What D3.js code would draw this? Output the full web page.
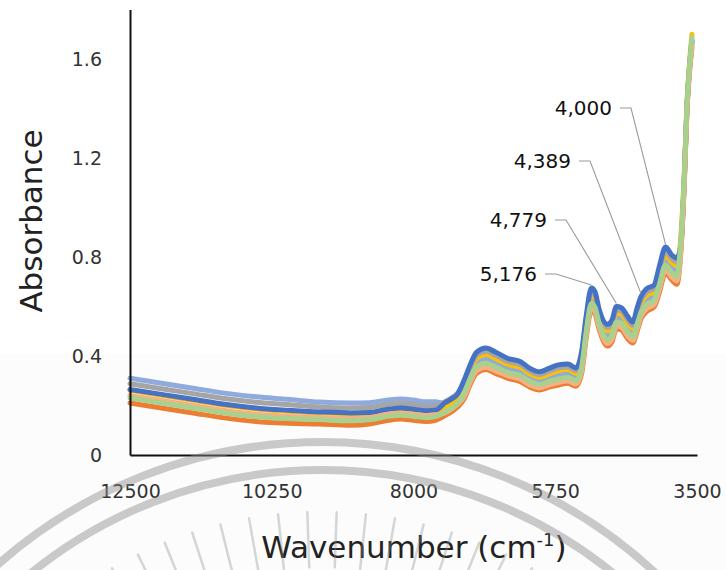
<!DOCTYPE html>
<html>
<head>
<meta charset="utf-8">
<script src="https://cdn.jsdelivr.net/npm/d3@7"></script>
<style>
  html, body { margin: 0; padding: 0; background: #ffffff; }
  svg { display: block; font-family: "DejaVu Sans", Verdana, sans-serif; }
</style>
</head>
<body>
<svg id="chart" width="726" height="570"></svg>
<script>
// NIR absorbance spectra (wavenumber in cm-1)
const wavenumber = [12500,12000,11500,11000,10500,10000,9500,9000,8700,8400,8200,8000,7800,7650,
  7500,7400,7300,
  7200,7100,7000,6850,6700,6500,6300,6150,6000,5850,5700,5550,5420,5330,5260,5176,5120,5050,4920,4850,4779,4700,4600,4520,4450,4389,4300,4180,4100,4000,3900,3820,
  3760,3700,3660,3620,3580];

const sampleA = [.265,.245,.225,.205,.19,.181,.174,.17,.172,.185,.19,.185,.179,.181,
  .211,.226,.246,
  .30,.365,.415,.432,.416,.39,.377,.35,.336,.35,.364,.368,.352,.42,.56,.675,.66,.586,.528,.545,.60,.595,.56,.537,.595,.64,.672,.687,.76,.84,.808,.796,
  .842,1.13,1.404,1.564,1.676];
const sampleB = [.31,.29,.27,.25,.235,.225,.214,.21,.211,.222,.226,.222,.215,.215,
  .208,.223,.243,
  .263,.325,.373,.389,.373,.35,.337,.312,.30,.312,.324,.329,.315,.375,.515,.63,.615,.546,.484,.501,.555,.55,.515,.495,.548,.595,.626,.643,.708,.788,.758,.743,
  .835,1.125,1.40,1.56,1.67];
const sampleC = [.288,.268,.248,.228,.213,.204,.194,.19,.192,.204,.208,.204,.197,.199,
  .215,.23,.25,
  .289,.353,.402,.419,.403,.378,.365,.339,.325,.339,.352,.356,.341,.407,.547,.662,.647,.574,.515,.532,.587,.582,.547,.524,.581,.627,.658,.674,.744,.824,.793,.78,
  .828,1.12,1.396,1.556,1.664];
const sampleD = [.21,.19,.17,.15,.135,.128,.125,.12,.125,.14,.145,.14,.135,.14,
  .159,.174,.194,
  .225,.285,.33,.345,.33,.31,.296,.274,.263,.274,.283,.29,.278,.33,.47,.585,.57,.505,.44,.457,.51,.505,.47,.453,.50,.55,.58,.598,.655,.735,.707,.69,
  .807,1.105,1.384,1.544,1.646];
const sampleE = [.261,.241,.221,.201,.186,.177,.17,.166,.168,.181,.186,.181,.175,.177,
  .196,.211,.231,
  .278,.341,.39,.406,.39,.366,.353,.327,.314,.327,.34,.345,.33,.393,.533,.648,.633,.562,.502,.519,.573,.568,.533,.512,.567,.613,.644,.66,.729,.809,.778,.764,
  .87,1.15,1.42,1.58,1.70];
const sampleF = [.23,.21,.19,.17,.155,.147,.143,.138,.142,.156,.161,.156,.151,.155,
  .174,.189,.209,
  .248,.309,.356,.371,.356,.334,.32,.297,.285,.297,.307,.313,.30,.357,.497,.612,.597,.529,.466,.483,.537,.532,.497,.478,.529,.577,.608,.625,.687,.767,.737,.722,
  .856,1.14,1.412,1.572,1.688];
const sampleG = [.24,.22,.20,.18,.165,.157,.152,.147,.151,.165,.169,.165,.159,.163,
  .17,.185,.205,
  .234,.295,.34,.355,.34,.32,.306,.283,.272,.283,.293,.299,.287,.341,.481,.596,.581,.515,.451,.468,.521,.516,.481,.463,.511,.561,.591,.609,.668,.748,.719,.703,
  .814,1.11,1.388,1.548,1.652];

const xTicks = [12500, 10250, 8000, 5750, 3500];
const yTicks = [0, 0.4, 0.8, 1.2, 1.6];
const peakLabels = [4000, 4389, 4779, 5176];

// drawing order (last on top) and line colours
const spectra = [sampleB, sampleE, sampleC, sampleA, sampleD, sampleG, sampleF];
const palette = ["#8FAADC", "#FFC000", "#A5A5A5", "#4472C4", "#ED7D31", "#F4B183", "#A9D18E"];

const svg = d3.select("#chart");

const defs = svg.append("defs");
defs.append("filter").attr("id", "soft")
  .append("feGaussianBlur").attr("stdDeviation", 0.6);

// very faint grey band across the lower part of the page
svg.append("rect").attr("x", 0).attr("y", 354).attr("width", 726).attr("height", 216)
  .attr("fill", "#fcfcfc");

const x = d3.scaleLinear().domain([12500, 3500]).range([130, 697]);
const y = d3.scaleLinear().domain([0, 1.8]).range([455, 9.5]);

const line = d3.line()
  .x((d, i) => x(wavenumber[i]))
  .y(d => y(d))
  .curve(d3.curveMonotoneX);

const plot = svg.append("g").attr("filter", "url(#soft)");
spectra.forEach((s, k) => {
  plot.append("path")
    .datum(s)
    .attr("d", line)
    .attr("fill", "none")
    .attr("stroke", palette[k])
    .attr("stroke-width", 5)
    .attr("stroke-linejoin", "round")
    .attr("stroke-linecap", "round");
});

// axes
const xAxis = d3.axisBottom(x).tickValues(xTicks).tickSize(0).tickPadding(30)
  .tickFormat(d3.format("d"));
const gx = svg.append("g").attr("transform", "translate(0,455)").call(xAxis);
gx.select(".domain").attr("stroke", "#111").attr("stroke-width", 2);
gx.selectAll("text").attr("font-size", 19).attr("fill", "#333").attr("font-family", "DejaVu Sans");

const yAxis = d3.axisLeft(y).tickValues(yTicks).tickSize(0).tickPadding(28)
  .tickFormat(d => d === 0 ? "0" : d3.format(".1f")(d));
const gy = svg.append("g").attr("transform", "translate(130,0)").call(yAxis);
gy.select(".domain").attr("stroke", "#111").attr("stroke-width", 2);
gy.selectAll("text").attr("font-size", 19).attr("fill", "#333").attr("font-family", "DejaVu Sans");

// axis titles
svg.append("text")
  .attr("transform", "translate(42,221) rotate(-90)")
  .attr("text-anchor", "middle")
  .attr("font-size", 31).attr("fill", "#222")
  .text("Absorbance");

const xt = svg.append("text")
  .attr("x", 414).attr("y", 558)
  .attr("text-anchor", "middle")
  .attr("font-size", 31).attr("fill", "#222");
xt.append("tspan").text("Wavenumber (cm");
xt.append("tspan").attr("font-size", 18).attr("dy", -12).text("-1");
xt.append("tspan").attr("dy", 12).text(")");

// peak call-outs with leader lines to the top spectrum
const labelPos = [
  { tx: 612, ty: 108 },
  { tx: 571, ty: 161 },
  { tx: 547, ty: 220 },
  { tx: 537, ty: 274 }
];
const fmt = d3.format(",");
peakLabels.forEach((wn, i) => {
  const p = labelPos[i];
  const idx = wavenumber.indexOf(wn);
  const px = x(wn), py = y(sampleA[idx]) - 3;
  svg.append("polyline")
    .attr("points", [[p.tx + 8, p.ty], [p.tx + 19, p.ty], [px, py]].map(d => d.join(",")).join(" "))
    .attr("fill", "none").attr("stroke", "#9a9a9a").attr("stroke-width", 1.1);
  svg.append("text")
    .attr("x", p.tx).attr("y", p.ty)
    .attr("dy", "0.35em")
    .attr("text-anchor", "end")
    .attr("font-size", 20).attr("fill", "#111")
    .text(fmt(wn));
});

// seal watermark over the lower part of the page
const wm = svg.append("g");
const cx = 322, cy = 932;
[490, 462].forEach(r => {
  wm.append("circle").attr("cx", cx).attr("cy", cy).attr("r", r)
    .attr("fill", "none").attr("stroke", "#8c8c8c").attr("stroke-opacity", 0.45)
    .attr("stroke-width", 8);
});
d3.range(-30, 31, 4).forEach(a => {
  const t = (a - 90) * Math.PI / 180;
  const r0 = 365, r1 = 420;
  wm.append("line")
    .attr("x1", cx + r0 * Math.cos(t)).attr("y1", cy + r0 * Math.sin(t))
    .attr("x2", cx + r1 * Math.cos(t)).attr("y2", cy + r1 * Math.sin(t))
    .attr("stroke", "#8c8c8c").attr("stroke-opacity", 0.35)
    .attr("stroke-width", 2.5).attr("stroke-linecap", "round");
});
</script>
</body>
</html>
